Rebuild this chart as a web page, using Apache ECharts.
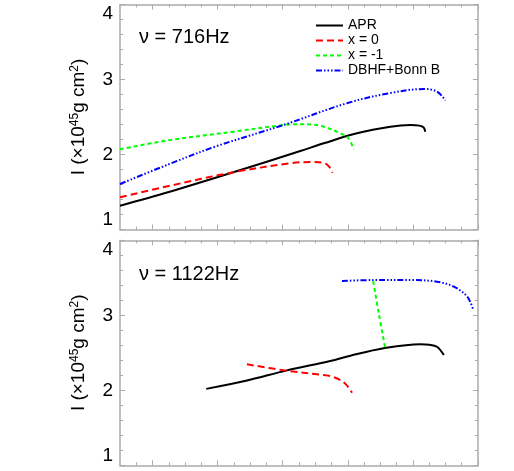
<!DOCTYPE html>
<html>
<head>
<meta charset="UTF-8">
<title>I vs M</title>
<script src="https://cdn.jsdelivr.net/npm/echarts@6/dist/echarts.min.js"></script>
<style>
	html, body { margin: 0; padding: 0; background: #fff; }
	#main { width: 514px; height: 471px; }
</style>
</head>
<body>
<div id="main"></div>
<script type="text/javascript">
	// panel 1 : nu = 716Hz
	var apr716 = [[1.1,1.317],[1.25,1.50],[1.448,1.763],[1.654,2.047],[1.726,2.149],[1.828,2.283],[1.931,2.371],[1.992,2.393],[2.02,2.385],[2.033,2.36],[2.038,2.304]];
	var x0716 = [[1.1,1.429],[1.25,1.58],[1.448,1.763],[1.623,1.883],[1.685,1.90],[1.726,1.888],[1.741,1.845],[1.753,1.757]];
	var xm1716 = [[1.1,2.069],[1.25,2.19],[1.448,2.304],[1.602,2.393],[1.654,2.403],[1.69,2.40],[1.726,2.371],[1.777,2.283],[1.802,2.216],[1.818,2.069]];
	var bonn716 = [[1.1,1.607],[1.25,1.87],[1.392,2.104],[1.602,2.393],[1.802,2.69],[1.931,2.82],[2.033,2.873],[2.074,2.84],[2.1,2.72]];
	// panel 2 : nu = 1122Hz
	var apr1122 = [[1.365,2.019],[1.49,2.13],[1.613,2.266],[1.746,2.39],[1.808,2.461],[1.91,2.56],[2.023,2.615],[2.05,2.608],[2.074,2.58],[2.095,2.47]];
	var x01122 = [[1.49,2.347],[1.613,2.261],[1.726,2.204],[1.746,2.19],[1.777,2.137],[1.795,2.075],[1.813,1.968]];
	var xm11122 = [[1.878,3.457],[1.895,3.027],[1.915,2.56]];
	var bonn1122 = [[1.782,3.457],[1.879,3.47],[2.002,3.47],[2.074,3.448],[2.126,3.381],[2.167,3.248],[2.185,3.08]];

	var names = ['APR', 'x = 0', 'x = -1', 'DBHF+Bonn B'];
	var panelText = ['ν = 716Hz', 'ν = 1122Hz'];
	var majorX = [1.2, 1.4, 1.6, 1.8, 2.0, 2.2];
	var minorX = [1.15, 1.25, 1.3, 1.35, 1.45, 1.5, 1.55, 1.65, 1.7, 1.75, 1.85, 1.9, 1.95, 2.05, 2.1, 2.15];

	var frame = '#ababab';
	var font = 'Liberation Sans';

	var grids = [
		{ left: 120, width: 358, top: 4.5, height: 225 },
		{ left: 120, width: 358, top: 240.3, height: 225 }
	];

	var xAxis = [], yAxis = [];
	for (var g = 0; g < 2; g++) {
		// bottom major, bottom minor, top major, top minor
		var sides = [['bottom', majorX, 5], ['bottom', minorX, 3], ['top', majorX, 5], ['top', minorX, 3]];
		for (var s = 0; s < sides.length; s++) {
			xAxis.push({
				type: 'value', gridIndex: g, position: sides[s][0],
				min: 1.1, max: 2.2,
				axisLine: { show: s % 2 == 0, onZero: false, lineStyle: { color: frame, width: 1.5 } },
				axisTick: { show: true, inside: true, length: sides[s][2], customValues: sides[s][1], lineStyle: { color: frame, width: 1 } },
				axisLabel: { show: false },
				splitLine: { show: false }
			});
		}
		yAxis.push({
			type: 'value', gridIndex: g, position: 'left',
			min: 1, max: 4, interval: 1,
			name: 'I (×10{sup|45}g cm{sup|2})',
			nameLocation: 'middle', nameRotate: 90, nameGap: 31,
			nameTextStyle: {
				color: '#000', fontFamily: font, fontSize: 19,
				rich: { sup: { fontSize: 12, verticalAlign: 'bottom', padding: [0, 0, 8, 0], fontFamily: font, color: '#000' } }
			},
			axisLine: { show: true, lineStyle: { color: frame, width: 1.5 } },
			axisTick: { show: true, inside: true, length: 5, lineStyle: { color: frame } },
			minorTick: { show: true, splitNumber: 5, length: 3, lineStyle: { color: frame } },
			axisLabel: { color: '#000', fontSize: 19, fontFamily: font, margin: 7,
				verticalAlignMaxLabel: 'top', verticalAlignMinLabel: 'bottom' },
			splitLine: { show: false }
		});
		yAxis.push({
			type: 'value', gridIndex: g, position: 'right',
			min: 1, max: 4, interval: 1,
			axisLine: { show: true, lineStyle: { color: frame, width: 1.5 } },
			axisTick: { show: true, inside: true, length: 5, lineStyle: { color: frame } },
			minorTick: { show: true, splitNumber: 5, length: 3, lineStyle: { color: frame } },
			axisLabel: { show: false },
			splitLine: { show: false }
		});
	}

	var styles = [
		{ color: '#000000', type: 'solid' },
		{ color: '#ff0000', type: [7, 4] },
		{ color: '#00ff00', type: [4, 3] },
		{ color: '#0000ff', type: [6, 2, 1.5, 2, 1.5, 2, 1.5, 2] }
	];
	var panelData = [[apr716, x0716, xm1716, bonn716], [apr1122, x01122, xm11122, bonn1122]];

	var series = [];
	for (var p = 0; p < 2; p++) {
		for (var k = 0; k < 4; k++) {
			series.push({
				name: names[k], type: 'line',
				xAxisIndex: p * 4, yAxisIndex: p * 2,
				data: panelData[p][k],
				smooth: 0.35, symbol: 'none', showSymbol: false,
				lineStyle: { color: styles[k].color, type: styles[k].type, width: 2 },
				itemStyle: { color: styles[k].color },
				silent: true, animation: false
			});
		}
	}

	var myChart = echarts.init(document.getElementById('main'), null, { renderer: 'canvas' });
	myChart.setOption({
		backgroundColor: '#fff',
		animation: false,
		grid: grids,
		xAxis: xAxis,
		yAxis: yAxis,
		title: [
			{ text: panelText[0], left: 134, top: 22,
				textStyle: { color: '#000', fontWeight: 'normal', fontFamily: font, fontSize: 20 } },
			{ text: panelText[1], left: 134, top: 259,
				textStyle: { color: '#000', fontWeight: 'normal', fontFamily: font, fontSize: 20 } }
		],
		legend: {
			data: names, orient: 'vertical', left: 310, top: 13,
			itemWidth: 27, itemHeight: 15, itemGap: 0,
			itemStyle: { opacity: 0, borderWidth: 0 },
			textStyle: { color: '#000', fontFamily: font, fontSize: 14, lineHeight: 15 }
		},
		series: series
	});
</script>
</body>
</html>
